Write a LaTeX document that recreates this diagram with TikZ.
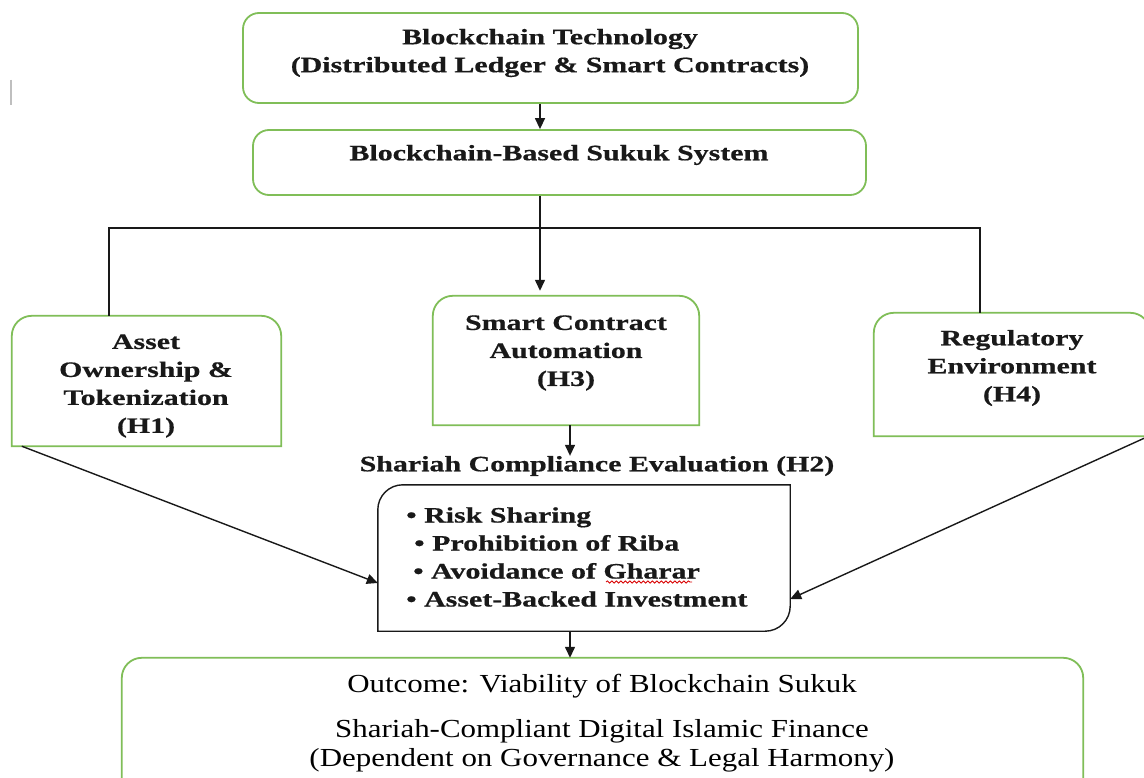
\documentclass[tikz,border=0pt]{standalone}
\usepackage{fontspec}
\setmainfont{Liberation Serif}
\newfontfamily\hdfont{Liberation Serif}[FakeStretch=1.36,BoldFeatures={FakeBold=0.6}]
\newfontfamily\outfont{Liberation Serif}[FakeStretch=1.19]
\usetikzlibrary{arrows.meta,calc,decorations.pathmorphing}
\definecolor{boxgreen}{RGB}{128,190,88}

% outline with only the two upper corners rounded
\newcommand\toproundframe[3]{%
  \draw[#2] (#1.south west) -- ([yshift=-#3]#1.north west)
    arc[start angle=180,end angle=90,radius=#3]
    -- ([xshift=-#3]#1.north east)
    arc[start angle=90,end angle=0,radius=#3]
    -- (#1.south east) -- cycle;}

\begin{document}
\begin{tikzpicture}[x=1pt,y=-1pt,
  frame/.style={draw=none,inner sep=0pt,minimum width=#1},
  gline/.style={draw=boxgreen,line width=1.8pt},
  roundbox/.style={gline,rounded corners=16pt,inner sep=0pt},
  lbl/.style={font=\hdfont\bfseries\fontsize{22}{28}\selectfont,align=center,inner sep=0pt,text=black!90},
  outlbl/.style={font=\outfont\fontsize{26}{29}\selectfont,align=center,inner sep=0pt,text=black},
  conn/.style={line width=1.4pt,draw=black!90},
  arr/.style={conn,-{Triangle[length=11pt,width=10pt]}},
]
\useasboundingbox (0,0) rectangle (1144,778);
\fill[white] (0,0) rectangle (1144,778);

% small grey mark on the left margin
\draw[black!25,line width=1.5pt] (11,80) -- (11,105);

% guide coordinates for the vertical connectors
\coordinate (c1) at (540,0);
\coordinate (c2) at (570,0);
\coordinate (busL) at (109,228);
\coordinate (busR) at (980,228);

% top boxes
\node[roundbox,minimum width=615pt,minimum height=90pt] (top) at (550.5,58) {};
\node[lbl] (toptxt) at (550,53) {Blockchain Technology\\(Distributed Ledger \& Smart Contracts)};
\node[roundbox,minimum width=613pt,minimum height=65pt] (sys) at (559.5,162.5) {};
\node[lbl] (systxt) at (559,155) {Blockchain-Based Sukuk System};

% three determinant boxes
\node[frame=269pt,minimum height=130pt] (h1) at (146.5,381) {};
\toproundframe{h1}{gline}{20pt}
\node[lbl] (h1txt) at (146,386) {Asset\\Ownership \&\\Tokenization\\(H1)};

\node[frame=266pt,minimum height=129pt] (h3) at (566,360.5) {};
\toproundframe{h3}{gline}{20pt}
\node[lbl] (h3txt) at (566,353) {Smart Contract\\Automation\\(H3)};

\node[frame=276pt,minimum height=123pt] (h4) at (1012,374.5) {};
\toproundframe{h4}{gline}{20pt}
\node[lbl] (h4txt) at (1012,368) {Regulatory\\Environment\\(H4)};

% Shariah compliance block
\node[lbl] (shlbl) at (597,466) {Shariah Compliance Evaluation (H2)};
\node[frame=412pt,minimum height=146pt] (sh) at (584,558) {};
\draw[conn] (sh.south west) -- ([yshift=-25pt]sh.north west)
  arc[start angle=180,end angle=90,radius=25pt] -- (sh.north east)
  -- ([yshift=25pt]sh.south east)
  arc[start angle=0,end angle=-90,radius=25pt] -- cycle;
\node[lbl,align=left,anchor=west] (shtxt) at (406,557)
  {\textbullet\ Risk Sharing\\
   \hspace*{8pt}\textbullet\ Prohibition of Riba\\
   \hspace*{7pt}\textbullet\ Avoidance of Gharar\\
   \textbullet\ Asset-Backed Investment};
\draw[red!85!black,line width=0.8pt,decorate,
  decoration={snake,segment length=4.5pt,amplitude=1.1pt}] (606,582) -- (692,582);

% outcome box
\node[frame=961pt,minimum height=142pt] (out) at (602.5,729) {};
\toproundframe{out}{gline}{20pt}
\node[outlbl] (out1) at (602,686) {Outcome: Viability of Blockchain Sukuk};
\node[outlbl] (out2) at (602,745.5) {Shariah-Compliant Digital Islamic Finance\\(Dependent on Governance \& Legal Harmony)};

% connectors
\draw[arr] (top.south -| c1) -- (sys.north -| c1);
\draw[arr,shorten >=5pt] (sys.south -| c1) -- (h3.north -| c1);
\draw[conn] (h1.north -| busL) -- (busL) -- (busR) -- (h4.north -| busR);
\draw[arr] (h3.south -| c2) -- (shlbl.north -| c2);
\draw[arr] ([xshift=10pt]h1.south west) -- ([yshift=-25pt]sh.west);
\draw[arr] ([xshift=-6pt,yshift=-2pt]h4.south east) -- ([yshift=-41pt]sh.east);
\draw[arr] (sh.south -| c2) -- (out.north -| c2);
\end{tikzpicture}
\end{document}
